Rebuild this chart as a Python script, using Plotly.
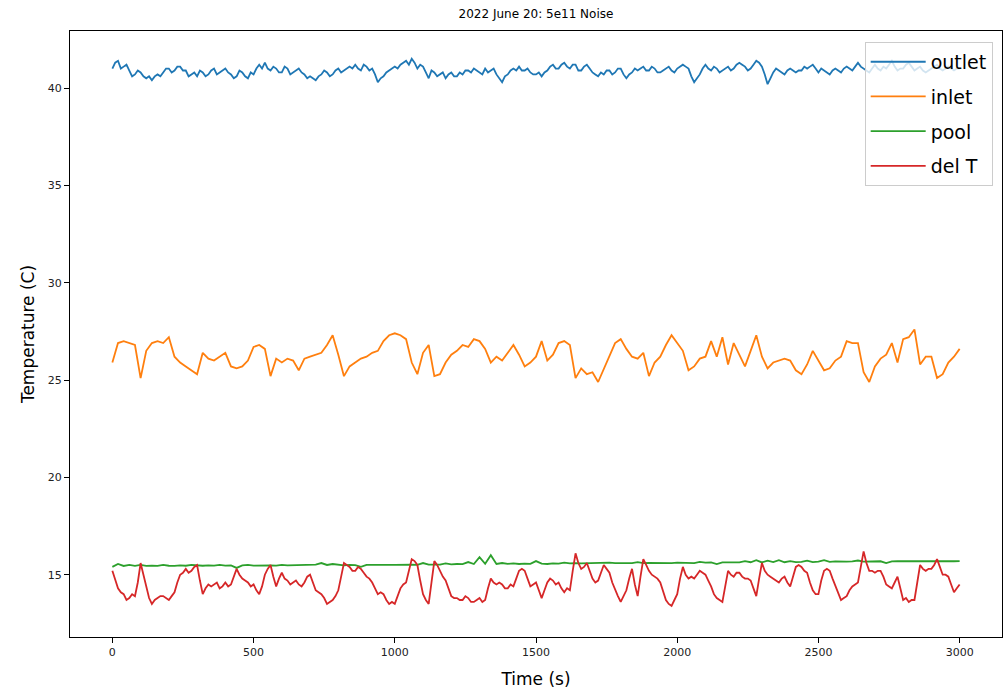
import plotly.graph_objects as go

# Outlet and del T were logged every 10 s; inlet and pool every 20 s
time_10s = list(range(0, 3001, 10))
time_20s = list(range(0, 3001, 20))

outlet = [
    41.0, 41.3, 41.4, 41.0, 41.1, 41.2, 40.9, 40.6, 40.7, 40.9, 40.8, 40.6, 40.5, 40.6, 40.4, 40.6, 40.7, 40.6, 40.8, 41.0,
    41.0, 40.8, 40.9, 41.1, 41.1, 40.9, 40.9, 40.6, 40.7, 40.8, 40.6, 40.9, 40.8, 40.6, 40.7, 40.9, 41.0, 40.7, 40.8, 40.9,
    41.0, 40.8, 40.7, 40.5, 40.6, 40.9, 40.8, 40.6, 40.5, 40.8, 40.7, 41.0, 41.2, 41.0, 41.3, 41.0, 40.9, 41.1, 41.0, 40.8,
    40.8, 41.1, 41.0, 40.7, 40.8, 40.9, 41.0, 40.8, 40.7, 40.5, 40.6, 40.5, 40.4, 40.6, 40.7, 40.9, 40.8, 40.6, 40.7, 40.9,
    41.0, 40.8, 40.9, 41.0, 41.1, 41.0, 41.2, 41.0, 40.9, 41.2, 41.1, 40.9, 41.0, 40.7, 40.3, 40.5, 40.6, 40.8, 40.9, 41.0,
    41.1, 41.0, 41.2, 41.3, 41.4, 41.2, 41.5, 41.3, 41.0, 41.2, 41.1, 40.8, 40.5, 40.9, 40.8, 40.6, 40.7, 40.8, 40.5, 40.7,
    40.8, 40.6, 40.6, 40.8, 40.7, 40.9, 40.9, 40.8, 41.0, 40.9, 40.8, 40.7, 41.0, 40.8, 40.9, 41.0, 40.7, 40.5, 40.3, 40.6,
    40.7, 40.9, 41.0, 40.9, 41.1, 40.9, 40.9, 41.0, 40.8, 40.7, 40.7, 40.8, 40.6, 40.8, 40.9, 41.1, 41.2, 41.0, 41.0, 41.2,
    41.3, 41.1, 41.0, 41.2, 41.2, 40.9, 40.9, 41.1, 41.2, 41.0, 40.8, 40.7, 40.6, 40.8, 40.7, 40.9, 40.9, 40.7, 40.8, 41.0,
    41.0, 40.7, 40.5, 40.7, 40.8, 41.0, 40.9, 41.0, 41.1, 40.9, 40.9, 41.1, 41.0, 40.8, 40.8, 40.9, 41.0, 41.1, 40.9, 40.8,
    41.0, 41.1, 41.2, 41.1, 41.0, 40.6, 40.3, 40.5, 40.7, 41.0, 41.2, 41.0, 40.9, 41.1, 41.0, 40.8, 40.9, 41.0, 41.1, 40.9,
    41.0, 41.2, 41.3, 41.2, 41.1, 40.9, 41.0, 41.2, 41.4, 41.3, 41.1, 40.7, 40.2, 40.5, 40.8, 41.0, 40.9, 40.8, 40.7, 40.9,
    41.0, 40.9, 40.8, 40.9, 40.9, 41.1, 41.0, 41.1, 41.2, 41.0, 40.8, 41.0, 40.9, 40.8, 40.7, 40.9, 41.0, 40.9, 40.8, 41.0,
    41.1, 41.0, 40.9, 41.1, 41.3, 41.1, 41.0, 40.9, 40.8, 41.0, 41.2, 41.0, 40.9, 41.1, 41.0, 41.2, 41.4, 41.1, 40.9, 41.0,
    41.0, 41.2, 41.3, 41.1, 40.9, 41.0, 41.1, 40.9, 40.8, 40.9, 41.0, 41.1, 41.2, 41.0, 40.9, 41.0, 41.1, 41.0, 40.9, 41.0,
    41.0,
]

inlet = [
    25.9, 26.9, 27.0, 26.9, 26.8, 25.1, 26.5, 26.9, 27.0, 26.9,
    27.2, 26.2, 25.9, 25.7, 25.5, 25.3, 26.4, 26.1, 26.0, 26.2,
    26.4, 25.7, 25.6, 25.7, 26.0, 26.7, 26.8, 26.6, 25.2, 26.1,
    25.9, 26.1, 26.0, 25.5, 26.1, 26.2, 26.3, 26.4, 26.8, 27.3,
    26.3, 25.2, 25.7, 25.9, 26.1, 26.2, 26.4, 26.5, 27.0, 27.3,
    27.4, 27.3, 27.1, 25.9, 25.3, 26.4, 26.8, 25.2, 25.3, 25.9,
    26.3, 26.5, 26.8, 26.7, 27.1, 27.0, 26.6, 25.9, 26.2, 26.0,
    26.4, 26.8, 26.3, 25.7, 25.9, 26.2, 27.0, 26.0, 26.3, 26.9,
    27.0, 26.8, 25.1, 25.6, 25.3, 25.4, 24.9, 25.6, 26.3, 26.9,
    27.1, 26.6, 26.2, 26.1, 26.4, 25.2, 25.9, 26.2, 26.8, 27.3,
    26.9, 26.5, 25.5, 25.7, 26.1, 26.2, 27.0, 26.2, 27.2, 25.8,
    26.9, 26.3, 25.7, 26.5, 27.3, 26.2, 25.6, 25.9, 26.0, 26.1,
    26.0, 25.5, 25.3, 25.8, 26.5, 26.0, 25.5, 25.6, 26.0, 26.2,
    27.0, 26.9, 26.9, 25.4, 24.9, 25.7, 26.1, 26.3, 26.9, 25.9,
    27.1, 27.2, 27.6, 25.8, 26.2, 26.2, 25.1, 25.3, 25.9, 26.2,
    26.6,
]

pool = [
    15.40, 15.55, 15.45, 15.50, 15.45, 15.50, 15.45, 15.47, 15.45, 15.50,
    15.46, 15.45, 15.48, 15.46, 15.50, 15.47, 15.46, 15.48, 15.47, 15.50,
    15.47, 15.48, 15.35, 15.48, 15.50, 15.47, 15.48, 15.50, 15.48, 15.47,
    15.50, 15.48, 15.49, 15.50, 15.49, 15.50, 15.52, 15.60, 15.50, 15.55,
    15.50, 15.48, 15.50, 15.49, 15.40, 15.50, 15.51, 15.50, 15.52, 15.50,
    15.51, 15.52, 15.50, 15.52, 15.51, 15.60, 15.52, 15.53, 15.52, 15.58,
    15.53, 15.55, 15.54, 15.65, 15.55, 15.90, 15.56, 16.00, 15.55, 15.60,
    15.56, 15.58, 15.55, 15.57, 15.56, 15.70, 15.57, 15.55, 15.58, 15.57,
    15.62, 15.58, 15.60, 15.58, 15.59, 15.58, 15.60, 15.59, 15.62, 15.60,
    15.59, 15.61, 15.60, 15.65, 15.60, 15.61, 15.60, 15.62, 15.61, 15.60,
    15.62, 15.61, 15.63, 15.60, 15.66, 15.62, 15.63, 15.55, 15.63, 15.62,
    15.64, 15.63, 15.70, 15.64, 15.75, 15.63, 15.72, 15.65, 15.75, 15.64,
    15.70, 15.65, 15.66, 15.72, 15.65, 15.67, 15.75, 15.66, 15.68, 15.66,
    15.67, 15.68, 15.73, 15.67, 15.68, 15.67, 15.69, 15.60, 15.68, 15.70,
    15.68, 15.69, 15.70, 15.68, 15.69, 15.70, 15.69, 15.70, 15.70, 15.69,
    15.70,
]

del_t = [
    15.2, 14.7, 14.3, 14.1, 14.0, 13.7, 13.8, 14.0, 13.9, 14.6, 15.6, 15.0, 14.4, 13.8, 13.5, 13.7, 13.8, 13.9, 13.9, 13.8,
    13.7, 13.9, 14.1, 14.6, 15.0, 15.1, 15.3, 15.1, 15.2, 15.4, 15.5, 14.7, 14.0, 14.3, 14.5, 14.4, 14.5, 14.6, 14.3, 14.4,
    14.6, 14.4, 14.5, 14.9, 15.3, 15.0, 14.8, 14.7, 14.6, 14.4, 14.5, 14.2, 14.0, 14.4, 15.0, 15.3, 15.5, 14.9, 14.4, 14.8,
    15.1, 14.8, 14.7, 14.5, 14.6, 14.7, 14.5, 14.4, 14.6, 14.9, 15.0, 14.6, 14.2, 14.1, 14.0, 13.8, 13.5, 13.6, 13.7, 13.9,
    14.2, 14.9, 15.6, 15.5, 15.4, 15.2, 15.2, 15.4, 15.3, 15.1, 14.9, 14.8, 14.6, 14.3, 14.0, 14.1, 14.0, 13.7, 13.5, 13.6,
    13.5, 13.9, 14.3, 14.5, 14.6, 15.2, 15.8, 15.7, 15.5, 14.7, 14.0, 13.7, 13.5, 14.6, 15.7, 15.5, 15.2, 14.9, 14.7, 14.3,
    13.9, 13.8, 13.8, 13.7, 13.7, 13.9, 13.8, 13.6, 13.6, 13.7, 13.8, 13.6, 13.7, 14.3, 14.8, 14.6, 14.5, 14.6, 14.5, 14.3,
    14.3, 14.5, 14.4, 14.8, 15.2, 15.3, 15.2, 14.8, 14.4, 14.5, 14.6, 14.2, 13.8, 14.2, 14.6, 14.8, 14.7, 14.5, 14.6, 14.3,
    14.1, 14.3, 14.2, 15.2, 16.1, 15.6, 15.3, 15.4, 15.6, 15.2, 14.8, 14.6, 14.7, 15.1, 15.5, 15.3, 15.1, 14.6, 14.2, 13.9,
    13.6, 13.9, 14.2, 14.8, 15.3, 14.5, 13.9, 14.9, 15.8, 15.5, 15.2, 15.0, 14.9, 14.8, 14.6, 14.2, 13.7, 13.5, 13.4, 13.7,
    14.0, 14.8, 15.4, 15.0, 14.8, 14.9, 14.8, 15.0, 15.2, 15.1, 15.0, 14.7, 14.4, 14.0, 13.8, 13.7, 13.6, 14.4, 15.2, 15.0,
    14.9, 15.1, 15.1, 14.9, 14.8, 14.8, 14.7, 14.3, 13.9, 14.8, 15.6, 15.2, 15.0, 14.9, 14.8, 14.7, 14.6, 14.8, 14.9, 14.6,
    14.4, 14.9, 15.4, 15.5, 15.4, 15.2, 15.1, 14.6, 14.2, 14.0, 14.0, 14.7, 15.2, 15.3, 15.2, 14.8, 14.4, 14.0, 13.7, 13.8,
    13.9, 14.2, 14.4, 14.5, 14.6, 15.4, 16.2, 15.6, 15.2, 15.2, 15.1, 15.2, 15.2, 14.9, 14.5, 14.4, 14.3, 14.6, 14.9, 14.3,
    13.7, 13.8, 13.6, 13.7, 13.7, 14.6, 15.5, 15.3, 15.2, 15.3, 15.3, 15.5, 15.8, 15.4, 15.0, 15.0, 14.9, 14.5, 14.1, 14.3,
    14.5,
]

series = [
    ("outlet", time_10s, outlet, "#1f77b4"),
    ("inlet", time_20s, inlet, "#ff7f0e"),
    ("pool", time_20s, pool, "#2ca02c"),
    ("del T", time_10s, del_t, "#d62728"),
]

FONT = "DejaVu Sans"

fig = go.Figure()
for name, t, vals, color in series:
    fig.add_trace(go.Scatter(
        x=t, y=vals, mode="lines", name=name, legendgroup=name,
        line=dict(color=color, width=1.8),
    ))

axis_common = dict(
    showline=True, linecolor="black", linewidth=1, mirror=True,
    ticks="outside", ticklen=5, tickcolor="black", tickwidth=1,
    showgrid=False, zeroline=False,
    tickfont=dict(family=FONT, size=11, color="#222222"),
)

fig.update_layout(
    width=1004, height=694,
    margin=dict(l=70, r=2, t=31, b=57),
    paper_bgcolor="white", plot_bgcolor="white",
    font=dict(family=FONT, color="black"),
    title=dict(
        text="2022 June 20: 5e11 Noise",
        x=0.5, xref="paper", xanchor="center",
        y=1 - 14 / 694, yref="container", yanchor="middle",
        font=dict(family=FONT, size=12, color="black"),
    ),
    xaxis=dict(
        range=[-150, 3150], tickvals=[0, 500, 1000, 1500, 2000, 2500, 3000],
        title=dict(text="Time (s)", font=dict(family=FONT, size=17), standoff=14),
        **axis_common,
    ),
    yaxis=dict(
        range=[11.8, 42.93], tickvals=[15, 20, 25, 30, 35, 40],
        title=dict(text="Temperature (C)", font=dict(family=FONT, size=17), standoff=8),
        **axis_common,
    ),
    legend=dict(
        x=0.99, y=0.982, xanchor="right", yanchor="top",
        bgcolor="rgba(255,255,255,0.8)", bordercolor="#cccccc", borderwidth=1,
        font=dict(family=FONT, size=19, color="black"),
        tracegroupgap=7, itemwidth=55,
    ),
    showlegend=True,
)

fig.write_html("out.html")
